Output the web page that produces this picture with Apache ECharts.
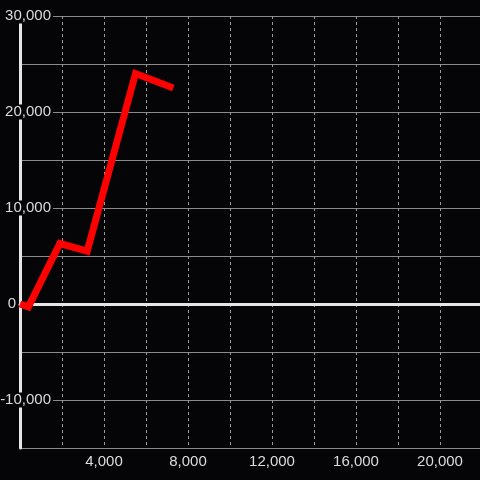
<!DOCTYPE html>
<html>
<head>
<meta charset="utf-8">
<script src="https://cdn.jsdelivr.net/npm/echarts@6/dist/echarts.min.js"></script>
<style>
  html, body { margin: 0; padding: 0; background: #050407; }
  #chart { width: 480px; height: 480px; }
</style>
</head>
<body>
<div id="chart"></div>
<script>
// data
let xValues = [0, 400, 1900, 3200, 5500, 7300];
let yValues = [0, -300, 6300, 5500, 24000, 22500];

let xMin = 0, xMax = 22000, xStep = 2000, xLabelStep = 4000;
let yMin = -15000, yMax = 30000, yStep = 5000, yLabelStep = 10000;

let textColor = '#dcdcdc';
let gridColor = '#8a8a8a';
let fontFamily = 'Liberation Sans, Arial, sans-serif';

let points = xValues.map((x, i) => [x, yValues[i]]);

function fmt(v) {
    return v.toLocaleString('en-US');
}

let chart = echarts.init(document.getElementById('chart'), null, { renderer: 'canvas' });

let option = {
    backgroundColor: '#050407',
    animation: false,
    grid: { left: 20, right: -2, top: 16, bottom: 32, containLabel: false, outerBoundsMode: 'none' },
    xAxis: [{
        type: 'value',
        min: xMin,
        max: xMax,
        interval: xStep,
        axisLine: { show: false, onZero: false },
        axisTick: { show: false },
        splitLine: { show: true, lineStyle: { color: '#9a9a9a', width: 1, type: [3, 3] } },
        axisLabel: {
            color: textColor,
            fontSize: 15,
            fontFamily: fontFamily,
            margin: 6,
            formatter: v => (v !== 0 && v % xLabelStep === 0) ? fmt(v) : ''
        }
    }, {
        // zero line only
        type: 'value',
        min: xMin,
        max: xMax,
        position: 'bottom',
        axisLine: { show: true, onZero: true, lineStyle: { color: '#e6e6e6', width: 3 } },
        axisTick: { show: false },
        axisLabel: { show: false },
        splitLine: { show: false }
    }],
    yAxis: {
        type: 'value',
        min: yMin,
        max: yMax,
        interval: yStep,
        axisLine: { show: true, lineStyle: { color: '#e6e6e6', width: 3 } },
        axisTick: { show: false },
        splitLine: { show: true, lineStyle: { color: gridColor, width: 1 } },
        axisLabel: {
            margin: -33,
            formatter: v => {
                if (v % yLabelStep !== 0) return '';
                if (v === 0) return '{z|0}';
                return '{a|' + fmt(v) + '}';
            },
            rich: {
                a: {
                    color: textColor, fontSize: 15, fontFamily: fontFamily,
                    backgroundColor: '#050407', lineHeight: 15, padding: [0, 2, 0, 2]
                },
                z: {
                    color: textColor, fontSize: 15, fontFamily: fontFamily,
                    padding: [0, 37, 0, 0]
                }
            }
        }
    },
    series: [{
        type: 'line',
        xAxisIndex: 0,
        data: points,
        showSymbol: false,
        lineStyle: { color: '#ff0000', width: 7, join: 'miter' },
        z: 5
    }]
};

chart.setOption(option);
</script>
</body>
</html>
